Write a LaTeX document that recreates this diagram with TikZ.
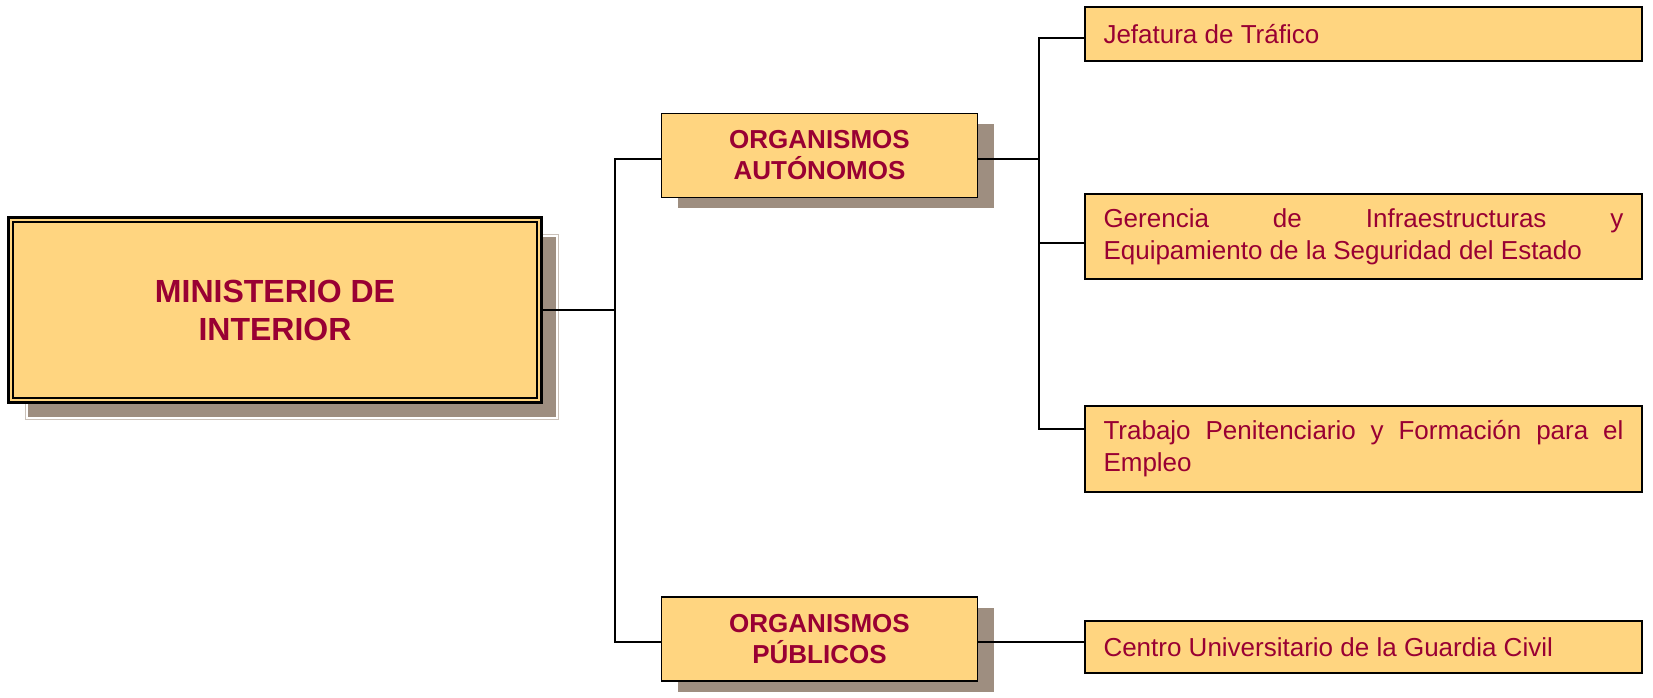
\documentclass[tikz,border=0pt]{standalone}
\usepackage{fontspec}
\setmainfont{Liberation Sans}
\usetikzlibrary{calc, positioning, shadows}

\definecolor{boxfill}{RGB}{255,213,128}
\definecolor{boxtext}{RGB}{153,0,51}
\definecolor{shadowgrey}{RGB}{158,142,128}

\tikzset{
  minbox/.style={draw, line width=1.5pt, fill=boxfill, text=boxtext,
    font=\bfseries\fontsize{16}{19}\selectfont, align=center,
    minimum width=266.5pt, minimum height=92.5pt,
    drop shadow={shadow xshift=8.5pt, shadow yshift=-8.5pt, fill=shadowgrey,
      draw=shadowgrey!55, line width=0.6pt, opacity=1}},
  orgbox/.style={draw, line width=0.6pt, fill=boxfill, text=boxtext,
    font=\bfseries\fontsize{13}{15.5}\selectfont, align=center,
    minimum width=158pt, minimum height=42pt,
    drop shadow={shadow xshift=8.25pt, shadow yshift=-5.25pt, fill=shadowgrey,
      opacity=1}},
  unitbox/.style={draw, line width=1pt, fill=boxfill, text=boxtext,
    font=\fontsize{13}{16}\selectfont, align=justify, text width=260pt,
    inner xsep=9.25pt, inner ysep=0pt, minimum width=278.5pt},
  conn/.style={line width=1pt}
}

\begin{document}
\begin{tikzpicture}[x=0.5pt, y=-0.5pt]
  \useasboundingbox (0,0) rectangle (1653,697);

  % boxes
  \node[minbox] (min) at (275,310) {MINISTERIO DE\\INTERIOR};
  \draw[white, line width=0.6pt] ([shift={(20,0)}]min.south west) -- ++(0,14)
    -- ++(530,0) -- ++(0,-182) -- ++(-14,0);
  \draw[line width=1pt] ([shift={(6,6)}]min.north west) rectangle ([shift={(-6,-6)}]min.south east);

  \node[orgbox] (oa) at (819.5,155.5) {ORGANISMOS\\AUTÓNOMOS};
  \node[orgbox] (op) at (819.5,639) {ORGANISMOS\\PÚBLICOS};

  \node[unitbox, minimum height=27pt] (jef) at (1363.5,34) {Jefatura de Tráfico};
  \node[unitbox, minimum height=42.5pt] (ger) at (1363.5,236.5)
    {\tolerance=10000 Gerencia de Infraestructuras y\linebreak Equipamiento de la Seguridad del Estado};
  \node[unitbox, minimum height=43pt] (tra) at (1363.5,449)
    {\tolerance=10000 Trabajo Penitenciario y Formación para el\linebreak Empleo};
  \node[unitbox, minimum height=26pt] (cen) at (1363.5,647) {Centro Universitario de la Guardia Civil};

  % ports and trunks
  \coordinate (trunkA) at (615,0);
  \coordinate (trunkB) at (1039,0);
  \coordinate (oaIn) at ([yshift=-1.75pt]oa.west);
  \coordinate (oaOut) at ([yshift=-1.75pt]oa.east);
  \coordinate (opIn) at ([yshift=-1.5pt]op.west);
  \coordinate (opOut) at ([yshift=-1.5pt]op.east);
  \coordinate (jefIn) at ([yshift=-2pt]jef.west);
  \coordinate (gerIn) at ([yshift=-3.25pt]ger.west);
  \coordinate (traIn) at ([yshift=10pt]tra.west);

  % connectors
  \draw[conn] (min.east) -- (min.east -| trunkA);
  \draw[conn] (oaIn) -| (trunkA |- opIn) -- (opIn);
  \draw[conn] (oaOut) -- (oaOut -| trunkB);
  \draw[conn] (jefIn) -| (trunkB |- traIn) -- (traIn);
  \draw[conn] (gerIn) -- (gerIn -| trunkB);
  \draw[conn] (opOut) -- (opOut -| cen.west);
\end{tikzpicture}
\end{document}
